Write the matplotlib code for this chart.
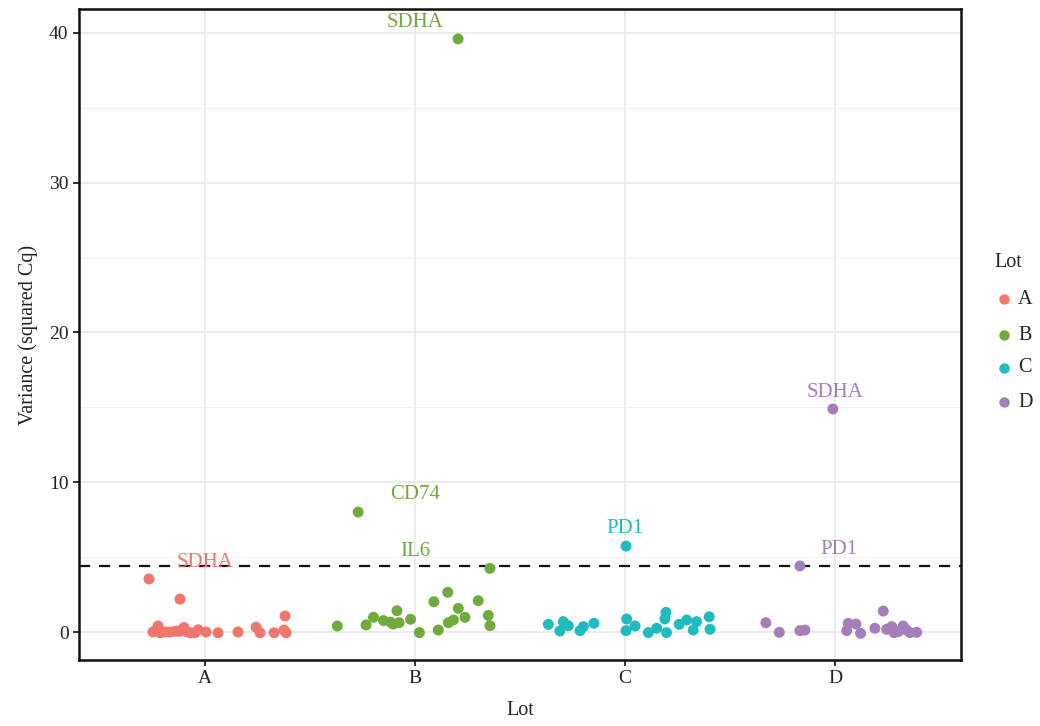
import matplotlib.pyplot as plt
from matplotlib.lines import Line2D
import numpy as np

plt.rcParams["font.family"] = ["Liberation Serif", "DejaVu Serif"]

# 数据：每个批次的抖动偏移与方差
lots = ["A", "B", "C", "D"]
colors = ["#F0766C", "#6EAA3C", "#1EBCC0", "#A57DB9"]

a_offset = [-0.267, -0.119, 0.381, -0.248, -0.224, -0.190, -0.214, -0.167, -0.143, -0.128,
            -0.119, -0.100, -0.086, -0.071, -0.048, -0.033, 0.005, 0.062, 0.157, 0.243,
            0.262, 0.329, 0.376, 0.386]
a_value = [3.54, 2.20, 1.07, 0.00, 0.40, 0.00, -0.05, 0.00, 0.05, 0.07,
           0.05, 0.30, 0.02, -0.05, -0.05, 0.15, 0.00, -0.05, 0.00, 0.32,
           -0.05, -0.05, 0.13, -0.05]

b_offset = [0.205, -0.271, -0.370, -0.233, -0.198, -0.150, -0.116, -0.104, -0.076, -0.086,
            -0.021, 0.021, 0.090, 0.111, 0.156, 0.159, 0.183, 0.206, 0.238, 0.301,
            0.349, 0.357, 0.357]
b_value = [39.6, 8.01, 0.40, 0.47, 0.98, 0.76, 0.65, 0.53, 0.62, 1.42,
           0.85, -0.04, 2.02, 0.13, 2.65, 0.62, 0.80, 1.58, 0.98, 2.09,
           1.11, 0.42, 4.25]

c_offset = [0.005, -0.365, -0.310, -0.294, -0.270, -0.214, -0.198, -0.148, 0.008, 0.005,
            0.048, 0.111, 0.151, 0.195, 0.190, 0.198, 0.258, 0.294, 0.325, 0.341,
            0.401, 0.405]
c_value = [5.74, 0.51, 0.07, 0.69, 0.42, 0.09, 0.36, 0.58, 0.87, 0.09,
           0.40, -0.04, 0.25, 1.31, 0.87, -0.04, 0.51, 0.80, 0.13, 0.69,
           1.02, 0.18]

d_offset = [-0.010, -0.167, -0.329, -0.265, -0.167, -0.143, 0.063, 0.056, 0.100, 0.122,
            0.190, 0.230, 0.246, 0.270, 0.281, 0.301, 0.325, 0.341, 0.357, 0.389]
d_value = [14.89, 4.41, 0.62, -0.02, 0.09, 0.13, 0.58, 0.09, 0.53, -0.09,
           0.25, 1.40, 0.18, 0.36, -0.04, 0.02, 0.40, 0.13, -0.04, -0.02]

offsets = [a_offset, b_offset, c_offset, d_offset]
values = [a_value, b_value, c_value, d_value]

# 标注的离群基因
label_lot = [0, 1, 1, 1, 2, 3, 3]
label_gene = ["SDHA", "SDHA", "CD74", "IL6", "PD1", "SDHA", "PD1"]
label_x = [1.0, 2.0, 2.0, 2.0, 3.0, 4.0, 4.02]
label_y = [4.67, 40.7, 9.2, 5.4, 6.94, 16.0, 5.54]

threshold = 4.41

fig = plt.figure(figsize=(10.4, 7.26), dpi=100)
ax = fig.add_axes([0.076, 0.0909, 0.848, 0.8967])

for i, lot in enumerate(lots):
    x = (i + 1) + np.array(offsets[i])
    ax.scatter(x, values[i], s=62, color=colors[i], edgecolors="none", zorder=3)

for lot_i, gene, tx, ty in zip(label_lot, label_gene, label_x, label_y):
    ax.text(tx, ty, gene, color=colors[lot_i], fontsize=15,
            ha="center", va="center", zorder=4)

ax.axhline(threshold, color="#111111", lw=1.6, ls=(0, (5, 4)), zorder=2)

ax.set_xlim(0.4, 4.6)
ax.set_ylim(-1.87, 41.6)
ax.set_xticks([1, 2, 3, 4])
ax.set_xticklabels(lots)
ax.set_yticks([0, 10, 20, 30, 40])
ax.set_yticks([5, 15, 25, 35], minor=True)
ax.grid(True, which="major", color="#EBEBEB", lw=1.4, zorder=0)
ax.grid(True, which="minor", axis="y", color="#F2F2F2", lw=0.8, zorder=0)
ax.set_axisbelow(True)
for sp in ax.spines.values():
    sp.set_linewidth(1.8)
    sp.set_color("#111111")
ax.tick_params(which="major", length=4, width=1.2, color="#111111",
               labelsize=14, labelcolor="#222222")
ax.tick_params(which="minor", length=0)

ax.set_xlabel("Lot", fontsize=14.5, color="#222222", labelpad=10)
ax.set_ylabel("Variance (squared Cq)", fontsize=14.5, color="#222222", labelpad=8)

# 图例（手动放置）
fig.text(994 / 1040, 1 - 263 / 726, "Lot", fontsize=14.5, color="#222222",
         ha="left", va="center")
legend_y = [299, 335, 368, 402]
for lot, c, py in zip(lots, colors, legend_y):
    yy = 1 - py / 726
    fig.add_artist(Line2D([1004 / 1040], [yy], marker="o", ms=7.5, color=c,
                          markeredgecolor="none", ls="none"))
    fig.text(1018 / 1040, yy, lot, fontsize=14.5, color="#222222",
             ha="left", va="center")

fig.savefig("out.png", dpi=100)
